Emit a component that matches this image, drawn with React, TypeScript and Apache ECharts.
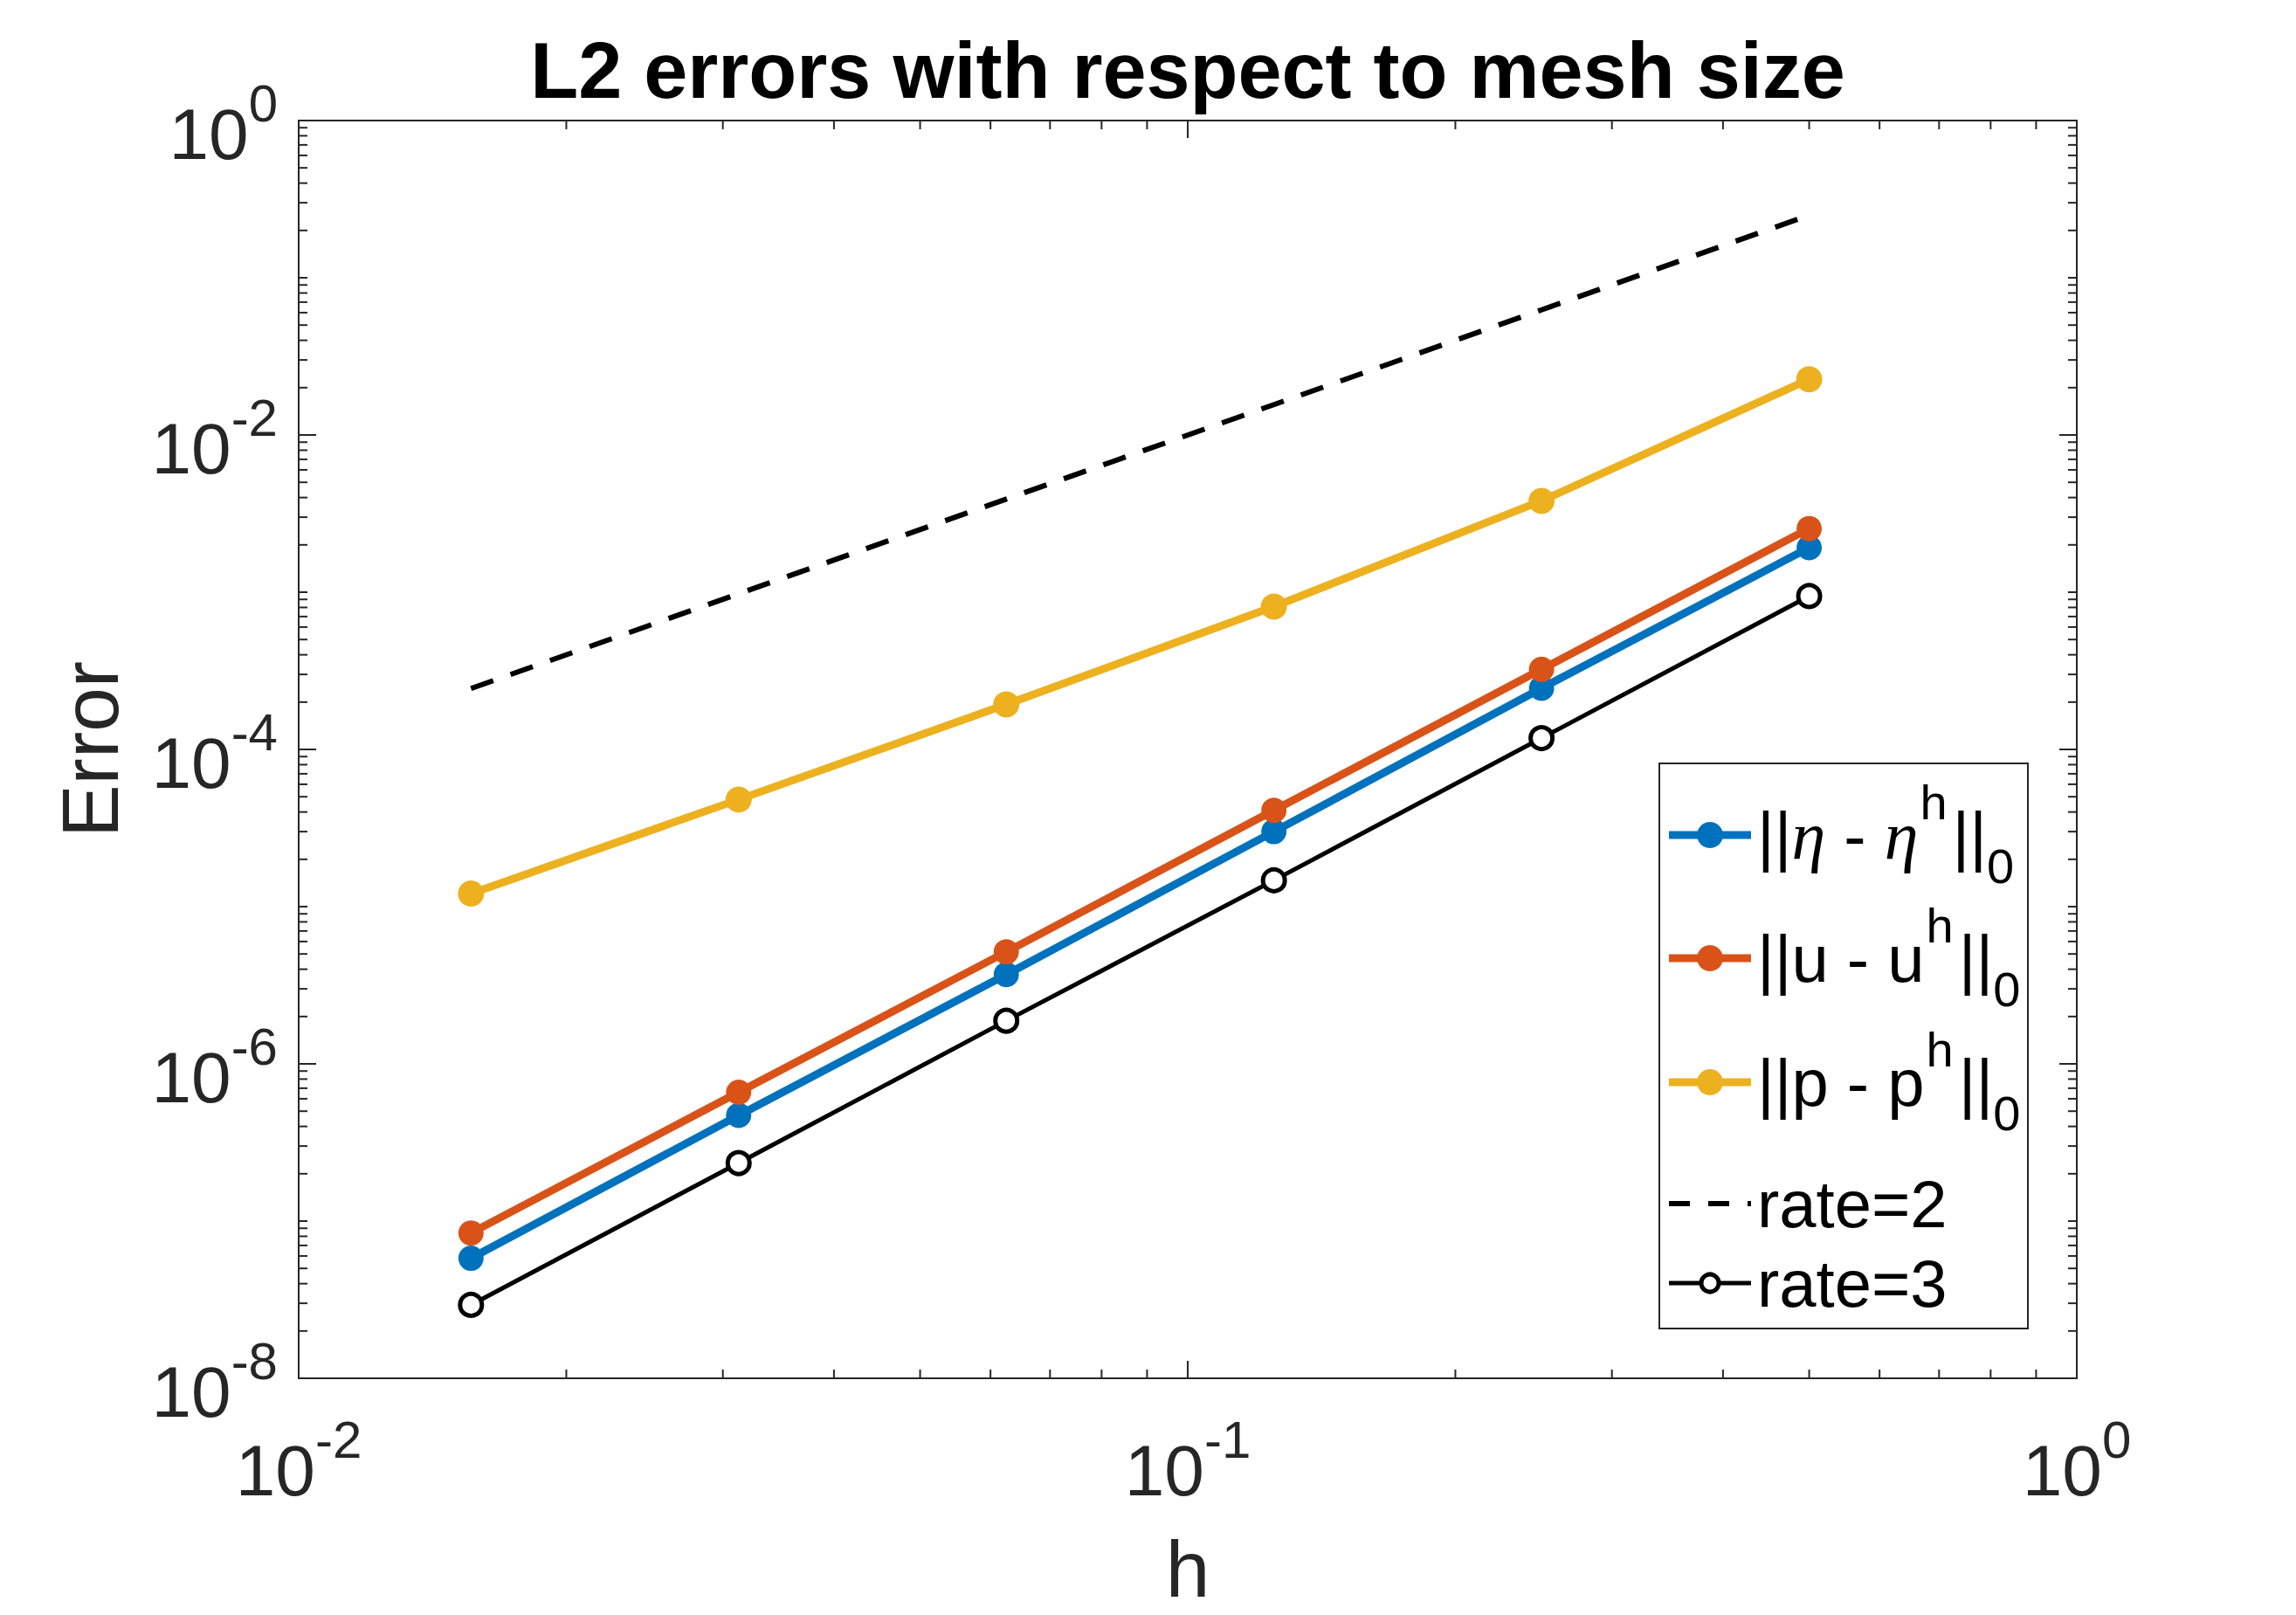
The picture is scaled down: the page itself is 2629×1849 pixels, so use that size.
import React, { useEffect, useRef } from 'react';
import * as echarts from 'echarts';

// ---- data ----
const hValues = [0.015625, 0.03125, 0.0625, 0.125, 0.25, 0.5];
const etaErr = [5.8e-8, 4.7e-7, 3.7e-6, 3.0e-5, 2.45e-4, 1.92e-3];
const uErr = [8.4e-8, 6.6e-7, 5.15e-6, 4.1e-5, 3.23e-4, 2.54e-3];
const pErr = [1.21e-5, 4.8e-5, 1.93e-4, 8.1e-4, 3.81e-3, 2.26e-2];
const rate2 = [2.44e-4, 9.77e-4, 3.91e-3, 1.56e-2, 6.25e-2, 0.25];
const rate3 = [2.93e-8, 2.34e-7, 1.88e-6, 1.47e-5, 1.18e-4, 9.45e-4];

// ---- axis ticks ----
const X_MIN = 0.01;
const X_MAX = 1;
const Y_MIN = 1e-8;
const Y_MAX = 1;
const xMajorTicks = [0.01, 0.1, 1];
const xDecades = [0.01, 0.1];
const yMajorTicks = [1e-8, 1e-6, 1e-4, 1e-2, 1];
const yOddDecades = [1e-7, 1e-5, 1e-3, 1e-1];
const yDecades = [1e-8, 1e-7, 1e-6, 1e-5, 1e-4, 1e-3, 1e-2, 1e-1];
const minorMultipliers = [2, 3, 4, 5, 6, 7, 8, 9];

const MAJOR_LEN = 20;
const MINOR_LEN = 10;

const FONT = "'Liberation Sans', Arial, Helvetica, sans-serif";
const AXIS_COLOR = '#262626';

const C_ETA = '#0072BD';
const C_U = '#D95319';
const C_P = '#EDB120';
const C_K = '#000000';

// legend entries (labels as rich text)
const legendNames = ['eta', 'u', 'p', 'rate=2', 'rate=3'];
const legendLabels: Record<string, string> = {
  eta: '{n|||}{it|η}{n| - }{it|η}{sup|h}{n|||}{sub|0}',
  u: '{n|||u - u}{sup|h}{n|||}{sub|0}',
  p: '{n|||p - p}{sup|h}{n|||}{sub|0}',
  'rate=2': '{n|rate=2}',
  'rate=3': '{n|rate=3}',
};
const legendRowY = [82, 223, 365, 504, 595];

const pairs = (ys: number[]) => hValues.map((h, i) => [h, ys[i]]);

function tickLabel(v: number, skipOdd: boolean): string {
  const e = Math.round(Math.log10(v));
  if (skipOdd && e % 2 !== 0) return '';
  return `{b|10}{s|${e}}`;
}

const tickRich = {
  b: {
    fontSize: 82,
    fontFamily: FONT,
    color: AXIS_COLOR,
    padding: [30, 0, 0, 0],
    verticalAlign: 'middle',
  },
  s: {
    fontSize: 60,
    fontFamily: FONT,
    color: AXIS_COLOR,
    padding: [0, 0, 40, 0],
    verticalAlign: 'middle',
  },
};

const legendRich = {
  n: { fontFamily: FONT, fontSize: 76, fill: '#000', verticalAlign: 'middle' },
  it: {
    fontFamily: "'Liberation Serif', 'DejaVu Serif', serif",
    fontStyle: 'italic',
    fontSize: 78,
    fill: '#000',
    verticalAlign: 'middle',
  },
  sup: { fontFamily: FONT, fontSize: 56, fill: '#000', padding: [0, 6, 76, 2], verticalAlign: 'middle' },
  sub: { fontFamily: FONT, fontSize: 56, fill: '#000', padding: [70, 0, 0, 0], verticalAlign: 'middle' },
};

const xTickData = [
  ...xMajorTicks.map((v) => [v, 1, MAJOR_LEN]),
  ...xDecades.flatMap((d) => minorMultipliers.map((m) => [d * m, 1, MINOR_LEN])),
];
const yTickData = [
  ...yMajorTicks.map((v) => [0.01, v, MAJOR_LEN]),
  ...yOddDecades.map((v) => [0.01, v, MINOR_LEN]),
  ...yDecades.flatMap((d) => minorMultipliers.map((m) => [0.01, d * m, MINOR_LEN])),
];

const tickStyle = { stroke: AXIS_COLOR, lineWidth: 2 };

function legendIcon(name: string, y: number): any[] {
  const x1 = 11;
  const x2 = 105;
  const cx = 58;
  if (name === 'rate=2') {
    return [
      { type: 'line', shape: { x1, y1: y, x2, y2: y }, style: { stroke: C_K, lineWidth: 6, lineDash: [24, 21] } },
    ];
  }
  if (name === 'rate=3') {
    return [
      { type: 'line', shape: { x1, y1: y, x2, y2: y }, style: { stroke: C_K, lineWidth: 5 } },
      { type: 'circle', shape: { cx, cy: y, r: 10 }, style: { fill: '#fff', stroke: C_K, lineWidth: 5 } },
    ];
  }
  const color = name === 'eta' ? C_ETA : name === 'u' ? C_U : C_P;
  return [
    { type: 'line', shape: { x1, y1: y, x2, y2: y }, style: { stroke: color, lineWidth: 9 } },
    { type: 'circle', shape: { cx, cy: y, r: 15 }, style: { fill: color } },
  ];
}

export default function App() {
  const ref = useRef<HTMLDivElement>(null);

  useEffect(() => {
    if (!ref.current) return;
    const chart = echarts.init(ref.current, undefined, { renderer: 'svg' });

    const legendChildren: any[] = [
      {
        type: 'rect',
        shape: { x: 0, y: 0, width: 422, height: 647 },
        style: { fill: '#fff', stroke: AXIS_COLOR, lineWidth: 2 },
      },
    ];
    legendNames.forEach((name, i) => {
      const y = legendRowY[i];
      legendChildren.push(...legendIcon(name, y));
      legendChildren.push({
        type: 'text',
        x: 112,
        y,
        style: {
          text: legendLabels[name],
          verticalAlign: 'middle',
          align: 'left',
          fontFamily: FONT,
          fontSize: 76,
          fill: '#000',
          rich: legendRich,
        },
      });
    });

    const option: any = {
      animation: false,
      backgroundColor: '#ffffff',
      graphic: [
        {
          type: 'text',
          x: 1360,
          y: 81,
          style: {
            text: 'L2 errors with respect to mesh size',
            fontFamily: FONT,
            fontWeight: 'bold',
            fontSize: 90,
            fill: '#000',
            align: 'center',
            verticalAlign: 'middle',
          },
        },
        {
          type: 'group',
          x: 1900,
          y: 874,
          z: 100,
          children: legendChildren,
        },
      ],
      grid: {
        left: 342,
        top: 138,
        width: 2036,
        height: 1440,
        show: true,
        borderColor: AXIS_COLOR,
        borderWidth: 2,
        backgroundColor: 'transparent',
        containLabel: false,
        outerBoundsMode: 'none',
      },
      xAxis: {
        type: 'log',
        logBase: 10,
        min: X_MIN,
        max: X_MAX,
        name: 'h',
        nameLocation: 'middle',
        nameGap: 173,
        nameMoveOverlap: false,
        nameTextStyle: { fontFamily: FONT, fontSize: 91, color: AXIS_COLOR },
        axisLine: { show: false },
        axisTick: { show: false },
        minorTick: { show: false },
        splitLine: { show: false },
        axisLabel: {
          margin: 34,
          formatter: (v: number) => tickLabel(v, false),
          rich: tickRich,
        },
      },
      yAxis: {
        type: 'log',
        logBase: 10,
        min: Y_MIN,
        max: Y_MAX,
        name: 'Error',
        nameLocation: 'middle',
        nameGap: 193,
        nameRotate: 90,
        nameMoveOverlap: false,
        nameTextStyle: { fontFamily: FONT, fontSize: 91, color: AXIS_COLOR },
        axisLine: { show: false },
        axisTick: { show: false },
        minorTick: { show: false },
        splitLine: { show: false },
        axisLabel: {
          margin: 24,
          formatter: (v: number) => tickLabel(v, true),
          rich: tickRich,
        },
      },
      legend: { show: false },
      series: [
        {
          type: 'custom',
          name: 'xticks',
          silent: true,
          dimensions: ['x', 'y', 'len'],
          encode: { x: 0, y: 1 },
          data: xTickData,
          z: 5,
          renderItem: (_params: any, api: any) => {
            const v = api.value(0);
            const len = api.value(2);
            const b = api.coord([v, Y_MIN]);
            const t = api.coord([v, Y_MAX]);
            return {
              type: 'group',
              children: [
                { type: 'line', shape: { x1: b[0], y1: b[1], x2: b[0], y2: b[1] - len }, style: tickStyle },
                { type: 'line', shape: { x1: t[0], y1: t[1], x2: t[0], y2: t[1] + len }, style: tickStyle },
              ],
            };
          },
        },
        {
          type: 'custom',
          name: 'yticks',
          silent: true,
          dimensions: ['x', 'y', 'len'],
          encode: { x: 0, y: 1 },
          data: yTickData,
          z: 5,
          renderItem: (_params: any, api: any) => {
            const v = api.value(1);
            const len = api.value(2);
            const l = api.coord([X_MIN, v]);
            const r = api.coord([X_MAX, v]);
            return {
              type: 'group',
              children: [
                { type: 'line', shape: { x1: l[0], y1: l[1], x2: l[0] + len, y2: l[1] }, style: tickStyle },
                { type: 'line', shape: { x1: r[0], y1: r[1], x2: r[0] - len, y2: r[1] }, style: tickStyle },
              ],
            };
          },
        },
        {
          type: 'line',
          name: 'eta',
          data: pairs(etaErr),
          color: C_ETA,
          symbol: 'circle',
          symbolSize: 29,
          lineStyle: { width: 9, color: C_ETA },
          itemStyle: { color: C_ETA },
          z: 10,
        },
        {
          type: 'line',
          name: 'u',
          data: pairs(uErr),
          color: C_U,
          symbol: 'circle',
          symbolSize: 29,
          lineStyle: { width: 9, color: C_U },
          itemStyle: { color: C_U },
          z: 10,
        },
        {
          type: 'line',
          name: 'p',
          data: pairs(pErr),
          color: C_P,
          symbol: 'circle',
          symbolSize: 30,
          lineStyle: { width: 9, color: C_P },
          itemStyle: { color: C_P },
          z: 10,
        },
        {
          type: 'line',
          name: 'rate=2',
          data: pairs(rate2),
          color: C_K,
          symbol: 'none',
          lineStyle: { width: 6, color: C_K, type: [27, 21] },
          z: 10,
        },
        {
          type: 'line',
          name: 'rate=3',
          data: pairs(rate3),
          color: C_K,
          symbol: 'circle',
          symbolSize: 25,
          lineStyle: { width: 5, color: C_K },
          itemStyle: { color: '#fff', borderColor: C_K, borderWidth: 5 },
          z: 10,
        },
      ],
    };

    chart.setOption(option);
    return () => {
      chart.dispose();
    };
  }, []);

  return (
    <div
      ref={ref}
      style={{
        position: 'fixed',
        left: 0,
        top: 0,
        width: 2629,
        height: 1849,
        background: '#fff',
      }}
    />
  );
}
